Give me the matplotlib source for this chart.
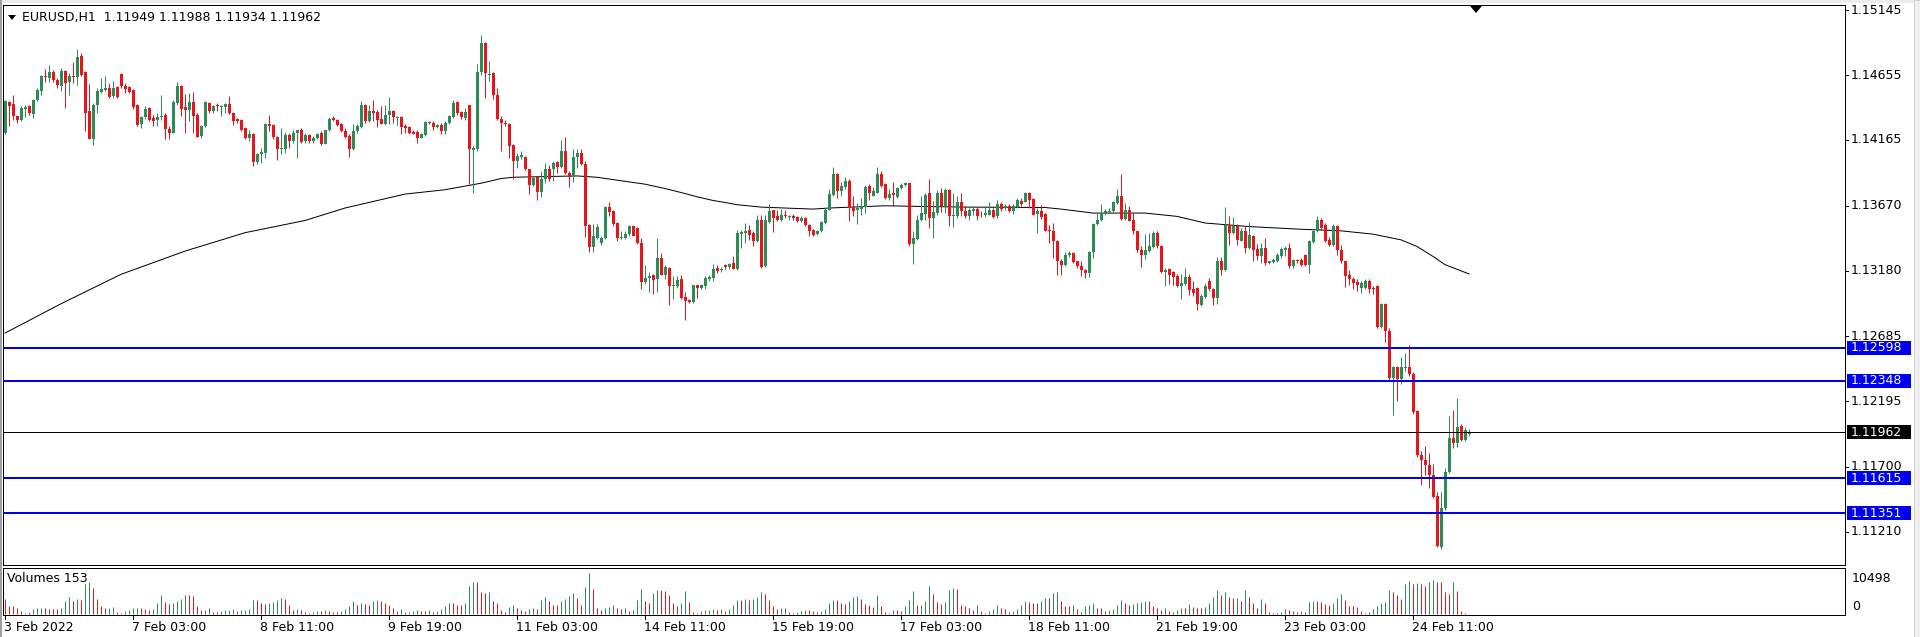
import matplotlib
matplotlib.use("Agg")
import matplotlib.pyplot as plt
from matplotlib.patches import Rectangle, Polygon
import numpy as np

SYMBOL = "EURUSD,H1"

# hourly bars (3 Feb 2022 -> 24 Feb 2022)
opens = [
    1.14219, 1.14449, 1.14439, 1.14349, 1.14314, 1.14401, 1.14424, 1.14364, 1.14469, 1.14531,
    1.14649, 1.14631, 1.14674, 1.14619, 1.14574, 1.14684, 1.14606, 1.14644, 1.14639, 1.14799,
    1.14674, 1.14381, 1.14169, 1.14431, 1.14524, 1.14544, 1.14556, 1.14494, 1.14564, 1.14664,
    1.14574, 1.14564, 1.14539, 1.14431, 1.14289, 1.14336, 1.14406, 1.14331, 1.14314, 1.14339,
    1.14356, 1.14249, 1.14219, 1.14444, 1.14574, 1.14414, 1.14389, 1.14449, 1.14356, 1.14194,
    1.14269, 1.14444, 1.14381, 1.14431, 1.14411, 1.14414, 1.14439, 1.14369, 1.14324, 1.14314,
    1.14252, 1.14182, 1.14207, 1.14002, 1.14062, 1.14069, 1.14287, 1.14277, 1.14187, 1.14094,
    1.14094, 1.14199, 1.14157, 1.14219, 1.14237, 1.14157, 1.14199, 1.14157, 1.14177, 1.14219,
    1.14137, 1.14237, 1.14332, 1.14314, 1.14282, 1.14232, 1.14192, 1.14094, 1.14232, 1.14262,
    1.14427, 1.14307, 1.14387, 1.14377, 1.14327, 1.14287, 1.14357, 1.14387, 1.14332, 1.14337,
    1.14269, 1.14262, 1.14227, 1.14227, 1.14182, 1.14202, 1.14302, 1.14294, 1.14262, 1.14277,
    1.14232, 1.14294, 1.14337, 1.14452, 1.14377, 1.14332, 1.14427, 1.14087, 1.14094, 1.14677,
    1.14894, 1.14654, 1.14669, 1.14507, 1.14327, 1.14294, 1.14289, 1.14127, 1.14007, 1.14039,
    1.14039, 1.13944, 1.13824, 1.13889, 1.13774, 1.13869, 1.13944, 1.13944, 1.13999, 1.13962,
    1.14082, 1.13919, 1.13889, 1.14039, 1.14069, 1.13982, 1.13524, 1.13357, 1.13424, 1.13389,
    1.13424, 1.13657, 1.13632, 1.13539, 1.13424, 1.13424, 1.13457, 1.13514, 1.13499, 1.13389,
    1.13094, 1.13124, 1.13144, 1.13114, 1.13274, 1.13149, 1.13199, 1.13064, 1.13064, 1.13114,
    1.12982, 1.12957, 1.12944, 1.13069, 1.13049, 1.13064, 1.13114, 1.13124, 1.13199, 1.13182,
    1.13219, 1.13209, 1.13239, 1.13189, 1.13459, 1.13464, 1.13489, 1.13464, 1.13402, 1.13564,
    1.13214, 1.13544, 1.13634, 1.13589, 1.13559, 1.13602, 1.13584, 1.13594, 1.13584, 1.13552,
    1.13577, 1.13527, 1.13484, 1.13459, 1.13477, 1.13539, 1.13639, 1.13752, 1.13909, 1.13777,
    1.13809, 1.13859, 1.13659, 1.13639, 1.13644, 1.13659, 1.13819, 1.13744, 1.13769, 1.13909,
    1.13834, 1.13727, 1.13764, 1.13734, 1.13802, 1.13827, 1.13839, 1.13377, 1.13419, 1.13559,
    1.13609, 1.13764, 1.13577, 1.13614, 1.13764, 1.13664, 1.13789, 1.13589, 1.13589, 1.13694,
    1.13631, 1.13589, 1.13631, 1.13646, 1.13601, 1.13601, 1.13601, 1.13639, 1.13589, 1.13681,
    1.13651, 1.13671, 1.13626, 1.13656, 1.13706, 1.13701, 1.13764, 1.13721, 1.13606, 1.13626,
    1.13606, 1.13489, 1.13481, 1.13406, 1.13256, 1.13221, 1.13296, 1.13314, 1.13251, 1.13214,
    1.13181, 1.13164, 1.13321, 1.13531, 1.13564, 1.13606, 1.13621, 1.13626, 1.13689, 1.13746,
    1.13571, 1.13639, 1.13564, 1.13476, 1.13339, 1.13296, 1.13331, 1.13356, 1.13464, 1.13364,
    1.13171, 1.13189, 1.13171, 1.13139, 1.13064, 1.13081, 1.13131, 1.13039, 1.13046, 1.12920,
    1.12980, 1.13105, 1.13045, 1.12970, 1.13255, 1.13188, 1.13525, 1.13463, 1.13520, 1.13405,
    1.13480, 1.13350, 1.13438, 1.13345, 1.13288, 1.13350, 1.13238, 1.13245, 1.13255, 1.13288,
    1.13338, 1.13350, 1.13213, 1.13263, 1.13263, 1.13300, 1.13220, 1.13395, 1.13475, 1.13563,
    1.13525, 1.13413, 1.13370, 1.13520, 1.13338, 1.13250, 1.13145, 1.13120, 1.13095, 1.13050,
    1.13050, 1.13105, 1.13050, 1.13063, 1.12755, 1.12930, 1.12725, 1.12370, 1.12455, 1.12363,
    1.12445, 1.12455, 1.12400, 1.12125, 1.11788, 1.11750, 1.11713, 1.11638, 1.11480, 1.11095,
    1.11388, 1.11663, 1.11920, 1.11880, 1.12005, 1.11900, 1.11949,
]
highs = [
    1.14469, 1.14456, 1.14506, 1.14356, 1.14424, 1.14431, 1.14429, 1.14474, 1.14556, 1.14656,
    1.14699, 1.14731, 1.14694, 1.14631, 1.14706, 1.14694, 1.14669, 1.14756, 1.14849, 1.14824,
    1.14689, 1.14589, 1.14444, 1.14556, 1.14631, 1.14649, 1.14594, 1.14611, 1.14569, 1.14669,
    1.14594, 1.14574, 1.14549, 1.14439, 1.14349, 1.14419, 1.14414, 1.14356, 1.14369, 1.14506,
    1.14369, 1.14269, 1.14469, 1.14606, 1.14581, 1.14514, 1.14519, 1.14524, 1.14369, 1.14281,
    1.14456, 1.14449, 1.14431, 1.14444, 1.14431, 1.14444, 1.14499, 1.14374, 1.14331, 1.14324,
    1.14262, 1.14237, 1.14219, 1.14069, 1.14102, 1.14294, 1.14352, 1.14287, 1.14194, 1.14252,
    1.14227, 1.14219, 1.14237, 1.14242, 1.14252, 1.14219, 1.14212, 1.14194, 1.14219, 1.14232,
    1.14244, 1.14337, 1.14344, 1.14327, 1.14294, 1.14252, 1.14207, 1.14287, 1.14287, 1.14462,
    1.14437, 1.14432, 1.14469, 1.14394, 1.14419, 1.14427, 1.14487, 1.14394, 1.14344, 1.14344,
    1.14287, 1.14269, 1.14237, 1.14237, 1.14219, 1.14307, 1.14312, 1.14307, 1.14287, 1.14294,
    1.14307, 1.14357, 1.14469, 1.14462, 1.14387, 1.14407, 1.14432, 1.14119, 1.14737, 1.14957,
    1.14907, 1.14757, 1.14674, 1.14557, 1.14349, 1.14319, 1.14294, 1.14132, 1.14069, 1.14082,
    1.14044, 1.13949, 1.13894, 1.13894, 1.13932, 1.13994, 1.13974, 1.14007, 1.14007, 1.14164,
    1.14189, 1.13932, 1.14094, 1.14094, 1.14094, 1.14007, 1.13532, 1.13532, 1.13532, 1.13444,
    1.13669, 1.13699, 1.13639, 1.13549, 1.13482, 1.13482, 1.13524, 1.13524, 1.13507, 1.13424,
    1.13219, 1.13169, 1.13157, 1.13424, 1.13314, 1.13219, 1.13207, 1.13139, 1.13139, 1.13144,
    1.13019, 1.12964, 1.13074, 1.13074, 1.13082, 1.13139, 1.13149, 1.13232, 1.13224, 1.13207,
    1.13227, 1.13239, 1.13289, 1.13489, 1.13489, 1.13539, 1.13527, 1.13477, 1.13602, 1.13602,
    1.13602, 1.13684, 1.13639, 1.13639, 1.13644, 1.13639, 1.13602, 1.13609, 1.13594, 1.13589,
    1.13584, 1.13534, 1.13494, 1.13489, 1.13552, 1.13652, 1.13794, 1.13964, 1.13914, 1.13852,
    1.13884, 1.13869, 1.13744, 1.13689, 1.13727, 1.13827, 1.13834, 1.13814, 1.13964, 1.13934,
    1.13839, 1.13794, 1.13852, 1.13814, 1.13844, 1.13852, 1.13844, 1.13477, 1.13602, 1.13739,
    1.13764, 1.13869, 1.13702, 1.13789, 1.13802, 1.13802, 1.13794, 1.13764, 1.13744, 1.13764,
    1.13664, 1.13651, 1.13664, 1.13656, 1.13626, 1.13664, 1.13696, 1.13651, 1.13714, 1.13701,
    1.13681, 1.13681, 1.13681, 1.13731, 1.13726, 1.13776, 1.13776, 1.13726, 1.13651, 1.13676,
    1.13614, 1.13526, 1.13539, 1.13414, 1.13264, 1.13321, 1.13326, 1.13321, 1.13256, 1.13251,
    1.13189, 1.13331, 1.13539, 1.13614, 1.13681, 1.13646, 1.13651, 1.13706, 1.13796, 1.13906,
    1.13689, 1.13664, 1.13614, 1.13481, 1.13364, 1.13456, 1.13464, 1.13476, 1.13481, 1.13376,
    1.13201, 1.13196, 1.13176, 1.13151, 1.13151, 1.13196, 1.13151, 1.13101, 1.13056, 1.13000,
    1.13088, 1.13125, 1.13050, 1.13280, 1.13280, 1.13663, 1.13595, 1.13588, 1.13530, 1.13500,
    1.13513, 1.13545, 1.13450, 1.13380, 1.13388, 1.13425, 1.13255, 1.13275, 1.13313, 1.13355,
    1.13363, 1.13388, 1.13270, 1.13270, 1.13275, 1.13305, 1.13413, 1.13488, 1.13595, 1.13580,
    1.13538, 1.13430, 1.13530, 1.13525, 1.13375, 1.13255, 1.13188, 1.13130, 1.13113, 1.13105,
    1.13113, 1.13113, 1.13063, 1.13070, 1.12938, 1.12938, 1.12750, 1.12463, 1.12463, 1.12525,
    1.12555, 1.12620, 1.12413, 1.12130, 1.11820, 1.11855, 1.11805, 1.11720, 1.11513, 1.11513,
    1.11688, 1.12080, 1.12130, 1.12220, 1.12025, 1.12000, 1.11988,
]
lows = [
    1.14207, 1.14269, 1.14319, 1.14294, 1.14306, 1.14339, 1.14356, 1.14331, 1.14456, 1.14506,
    1.14606, 1.14606, 1.14606, 1.14556, 1.14531, 1.14406, 1.14506, 1.14594, 1.14581, 1.14644,
    1.14231, 1.14169, 1.14131, 1.14369, 1.14519, 1.14531, 1.14481, 1.14481, 1.14481, 1.14556,
    1.14519, 1.14519, 1.14399, 1.14269, 1.14256, 1.14324, 1.14306, 1.14269, 1.14269, 1.14319,
    1.14169, 1.14174, 1.14214, 1.14431, 1.14344, 1.14214, 1.14306, 1.14219, 1.14189, 1.14181,
    1.14264, 1.14369, 1.14369, 1.14381, 1.14344, 1.14369, 1.14364, 1.14281, 1.14294, 1.14231,
    1.14169, 1.14157, 1.13969, 1.13987, 1.13994, 1.14032, 1.14232, 1.14169, 1.14012, 1.14057,
    1.14069, 1.14107, 1.14144, 1.14032, 1.14144, 1.14144, 1.14144, 1.14144, 1.14169, 1.14127,
    1.14132, 1.14232, 1.14307, 1.14269, 1.14227, 1.14182, 1.14037, 1.14087, 1.14219, 1.14252,
    1.14294, 1.14302, 1.14307, 1.14262, 1.14282, 1.14277, 1.14282, 1.14294, 1.14277, 1.14212,
    1.14219, 1.14207, 1.14207, 1.14144, 1.14177, 1.14194, 1.14282, 1.14237, 1.14252, 1.14212,
    1.14207, 1.14287, 1.14332, 1.14357, 1.14327, 1.14319, 1.13832, 1.13769, 1.14082, 1.14657,
    1.14482, 1.14607, 1.14474, 1.14319, 1.14082, 1.14274, 1.14032, 1.13869, 1.13957, 1.14019,
    1.13939, 1.13757, 1.13819, 1.13714, 1.13732, 1.13839, 1.13857, 1.13857, 1.13919, 1.13957,
    1.13907, 1.13814, 1.13849, 1.13957, 1.13974, 1.13432, 1.13319, 1.13324, 1.13419, 1.13374,
    1.13419, 1.13594, 1.13519, 1.13407, 1.13419, 1.13419, 1.13444, 1.13439, 1.13382, 1.13039,
    1.13082, 1.13019, 1.13007, 1.13019, 1.13144, 1.13114, 1.12919, 1.12969, 1.13049, 1.12969,
    1.12807, 1.12932, 1.12939, 1.12974, 1.13039, 1.13039, 1.13099, 1.13099, 1.13164, 1.13169,
    1.13189, 1.13194, 1.13189, 1.13184, 1.13352, 1.13389, 1.13414, 1.13364, 1.13394, 1.13202,
    1.13209, 1.13539, 1.13469, 1.13552, 1.13552, 1.13577, 1.13564, 1.13564, 1.13544, 1.13544,
    1.13519, 1.13444, 1.13444, 1.13452, 1.13469, 1.13534, 1.13634, 1.13744, 1.13727, 1.13744,
    1.13794, 1.13552, 1.13589, 1.13534, 1.13602, 1.13614, 1.13714, 1.13739, 1.13764, 1.13809,
    1.13719, 1.13714, 1.13664, 1.13727, 1.13794, 1.13819, 1.13364, 1.13227, 1.13414, 1.13552,
    1.13564, 1.13502, 1.13427, 1.13602, 1.13619, 1.13614, 1.13514, 1.13509, 1.13577, 1.13589,
    1.13576, 1.13564, 1.13601, 1.13564, 1.13581, 1.13581, 1.13596, 1.13576, 1.13576, 1.13631,
    1.13639, 1.13621, 1.13606, 1.13651, 1.13664, 1.13696, 1.13651, 1.13596, 1.13464, 1.13571,
    1.13476, 1.13389, 1.13276, 1.13146, 1.13146, 1.13214, 1.13281, 1.13239, 1.13201, 1.13139,
    1.13126, 1.13131, 1.13276, 1.13526, 1.13556, 1.13596, 1.13614, 1.13621, 1.13681, 1.13564,
    1.13564, 1.13551, 1.13456, 1.13321, 1.13206, 1.13264, 1.13321, 1.13351, 1.13351, 1.13164,
    1.13064, 1.13076, 1.13071, 1.13056, 1.12964, 1.13071, 1.12996, 1.12989, 1.12881, 1.12913,
    1.12975, 1.13025, 1.12920, 1.12925, 1.13145, 1.13180, 1.13370, 1.13455, 1.13375, 1.13400,
    1.13313, 1.13345, 1.13255, 1.13263, 1.13238, 1.13225, 1.13230, 1.13238, 1.13245, 1.13275,
    1.13288, 1.13200, 1.13200, 1.13238, 1.13213, 1.13213, 1.13163, 1.13388, 1.13470, 1.13488,
    1.13395, 1.13363, 1.13363, 1.13295, 1.13238, 1.13055, 1.13070, 1.13038, 1.13030, 1.13013,
    1.13038, 1.13013, 1.13000, 1.12750, 1.12745, 1.12645, 1.12345, 1.12088, 1.12200, 1.12325,
    1.12425, 1.12388, 1.12100, 1.11775, 1.11563, 1.11638, 1.11538, 1.11463, 1.11095, 1.11080,
    1.11375, 1.11655, 1.11845, 1.11850, 1.11895, 1.11895, 1.11934,
]
closes = [
    1.14456, 1.14424, 1.14344, 1.14314, 1.14406, 1.14414, 1.14369, 1.14469, 1.14544, 1.14644,
    1.14639, 1.14679, 1.14614, 1.14579, 1.14689, 1.14594, 1.14644, 1.14641, 1.14794, 1.14656,
    1.14369, 1.14169, 1.14431, 1.14531, 1.14549, 1.14556, 1.14486, 1.14556, 1.14486, 1.14569,
    1.14549, 1.14524, 1.14414, 1.14281, 1.14339, 1.14401, 1.14314, 1.14306, 1.14339, 1.14349,
    1.14249, 1.14219, 1.14449, 1.14574, 1.14399, 1.14389, 1.14449, 1.14349, 1.14189, 1.14274,
    1.14449, 1.14381, 1.14424, 1.14419, 1.14424, 1.14439, 1.14369, 1.14306, 1.14306, 1.14244,
    1.14182, 1.14207, 1.14002, 1.14062, 1.14077, 1.14287, 1.14269, 1.14187, 1.14094, 1.14102,
    1.14199, 1.14157, 1.14219, 1.14237, 1.14152, 1.14199, 1.14157, 1.14182, 1.14212, 1.14137,
    1.14237, 1.14327, 1.14314, 1.14277, 1.14232, 1.14187, 1.14094, 1.14232, 1.14269, 1.14427,
    1.14307, 1.14387, 1.14369, 1.14319, 1.14287, 1.14357, 1.14387, 1.14337, 1.14337, 1.14262,
    1.14257, 1.14219, 1.14212, 1.14182, 1.14207, 1.14302, 1.14294, 1.14262, 1.14277, 1.14232,
    1.14294, 1.14344, 1.14444, 1.14369, 1.14337, 1.14377, 1.14094, 1.14107, 1.14677, 1.14894,
    1.14669, 1.14664, 1.14507, 1.14324, 1.14294, 1.14282, 1.14119, 1.14007, 1.14044, 1.14049,
    1.13944, 1.13824, 1.13882, 1.13774, 1.13869, 1.13944, 1.13869, 1.13994, 1.13964, 1.14082,
    1.13919, 1.13889, 1.14039, 1.14064, 1.13982, 1.13519, 1.13357, 1.13439, 1.13507, 1.13424,
    1.13657, 1.13619, 1.13532, 1.13424, 1.13432, 1.13457, 1.13519, 1.13444, 1.13389, 1.13094,
    1.13124, 1.13139, 1.13107, 1.13274, 1.13149, 1.13207, 1.13064, 1.13074, 1.13107, 1.12974,
    1.12949, 1.12944, 1.13069, 1.13049, 1.13069, 1.13124, 1.13132, 1.13194, 1.13174, 1.13194,
    1.13209, 1.13227, 1.13194, 1.13464, 1.13469, 1.13477, 1.13452, 1.13402, 1.13564, 1.13209,
    1.13564, 1.13627, 1.13577, 1.13559, 1.13602, 1.13589, 1.13594, 1.13577, 1.13552, 1.13577,
    1.13527, 1.13477, 1.13452, 1.13482, 1.13544, 1.13639, 1.13759, 1.13909, 1.13777, 1.13819,
    1.13859, 1.13652, 1.13627, 1.13652, 1.13664, 1.13814, 1.13764, 1.13777, 1.13909, 1.13819,
    1.13727, 1.13759, 1.13752, 1.13802, 1.13827, 1.13839, 1.13377, 1.13427, 1.13564, 1.13614,
    1.13752, 1.13577, 1.13619, 1.13764, 1.13664, 1.13789, 1.13589, 1.13602, 1.13694, 1.13627,
    1.13589, 1.13639, 1.13644, 1.13589, 1.13599, 1.13614, 1.13639, 1.13581, 1.13681, 1.13646,
    1.13671, 1.13626, 1.13664, 1.13714, 1.13681, 1.13764, 1.13714, 1.13601, 1.13626, 1.13581,
    1.13481, 1.13476, 1.13401, 1.13251, 1.13221, 1.13301, 1.13314, 1.13246, 1.13214, 1.13181,
    1.13164, 1.13321, 1.13531, 1.13564, 1.13614, 1.13626, 1.13631, 1.13696, 1.13746, 1.13571,
    1.13639, 1.13556, 1.13476, 1.13339, 1.13296, 1.13339, 1.13364, 1.13464, 1.13364, 1.13171,
    1.13181, 1.13146, 1.13131, 1.13064, 1.13089, 1.13131, 1.13031, 1.13014, 1.12926, 1.12988,
    1.13063, 1.13038, 1.12970, 1.13255, 1.13188, 1.13525, 1.13463, 1.13520, 1.13413, 1.13480,
    1.13350, 1.13445, 1.13338, 1.13288, 1.13350, 1.13238, 1.13250, 1.13263, 1.13295, 1.13345,
    1.13350, 1.13213, 1.13263, 1.13250, 1.13220, 1.13220, 1.13400, 1.13475, 1.13563, 1.13500,
    1.13405, 1.13370, 1.13520, 1.13338, 1.13250, 1.13138, 1.13120, 1.13088, 1.13075, 1.13088,
    1.13105, 1.13038, 1.13038, 1.12755, 1.12930, 1.12725, 1.12370, 1.12450, 1.12363, 1.12450,
    1.12455, 1.12400, 1.12113, 1.11788, 1.11750, 1.11713, 1.11638, 1.11470, 1.11105, 1.11388,
    1.11663, 1.11920, 1.11880, 1.12000, 1.11900, 1.11975, 1.11962,
]
volumes = [
    3850, 2210, 2050, 1640, 820, 410, 660, 1230, 1480, 1640,
    1480, 1310, 1230, 1230, 1480, 3440, 4510, 3440, 3940, 3690,
    7790, 8200, 6720, 3940, 2050, 1480, 1640, 1800, 660, 330,
    820, 1150, 1480, 1640, 1480, 1230, 1070, 1230, 2870, 4920,
    3120, 2620, 2870, 3280, 3940, 4920, 4920, 4760, 2050, 980,
    1150, 1480, 660, 660, 820, 980, 1070, 1230, 900, 980,
    1150, 1310, 3690, 3690, 2870, 2710, 2870, 3120, 3690, 4100,
    3940, 2460, 980, 1310, 980, 660, 410, 660, 820, 820,
    980, 820, 660, 490, 820, 1230, 2050, 3280, 2460, 2870,
    2620, 2460, 3440, 3690, 3440, 2870, 2300, 1480, 820, 1230,
    490, 660, 820, 980, 820, 820, 980, 660, 820, 1230,
    2050, 2870, 2870, 2300, 2300, 2870, 7380, 8200, 8200, 5740,
    5580, 5740, 3280, 2870, 980, 660, 1800, 2460, 1640, 980,
    820, 1230, 1640, 1230, 3690, 4510, 3440, 2460, 2300, 3280,
    3940, 4760, 5580, 4100, 2300, 6970, 10498, 6560, 1480, 980,
    1640, 1800, 2460, 1640, 1230, 1480, 820, 980, 3690, 6560,
    3440, 2870, 5580, 6150, 6150, 5900, 4920, 2870, 2050, 2870,
    5900, 3120, 660, 410, 820, 980, 1150, 1230, 1150, 1230,
    820, 1230, 2460, 3690, 3690, 3940, 3690, 3940, 4510, 5740,
    5330, 3690, 2050, 1230, 1480, 1640, 660, 410, 660, 820,
    980, 980, 820, 660, 820, 1230, 2870, 3690, 3690, 2870,
    2620, 3280, 4510, 4760, 3940, 2620, 2300, 1800, 4920, 2050,
    660, 410, 980, 980, 820, 2050, 3690, 5900, 2300, 2460,
    3440, 7380, 5330, 3120, 2620, 3120, 6150, 6720, 6400, 2460,
    2050, 1640, 980, 2300, 820, 410, 820, 1230, 2460, 1480,
    1230, 660, 820, 1230, 2300, 3440, 3120, 2870, 2870, 3280,
    4100, 4100, 5580, 5740, 3440, 2050, 2050, 2460, 1230, 660,
    2050, 2300, 2870, 1640, 1480, 820, 980, 1230, 2460, 3690,
    2870, 2460, 2620, 2870, 3120, 3440, 3280, 2050, 1480, 980,
    1640, 820, 660, 980, 1640, 1640, 2620, 1800, 1640, 1480,
    1800, 2870, 4510, 6150, 4920, 5740, 4510, 4100, 4260, 3280,
    6150, 4510, 2870, 1640, 3940, 2870, 660, 410, 410, 660,
    1230, 980, 820, 660, 820, 660, 3120, 3280, 3280, 3120,
    2620, 2460, 2870, 4100, 5080, 3690, 2050, 2050, 1800, 820,
    410, 660, 1230, 2050, 2870, 3120, 6150, 5740, 4920, 3940,
    7790, 8610, 7790, 8040, 7790, 7380, 8200, 8860, 8200, 8200,
    5740, 5330, 8200, 5900, 820, 410, 153,
]

# moving average, read at a few bars along the black curve
ma_bars = [0, 14, 29, 45, 60, 75, 85, 100, 110, 119, 124, 127, 135, 143, 148, 156,
           160, 165, 169, 173, 177, 180, 183, 189, 195, 202, 206, 220, 229, 240,
           260, 264, 272, 280, 285, 293, 300, 311, 324, 334, 342, 349, 353, 357,
           360, 366]
ma_values = [1.12709, 1.12930, 1.13152, 1.13327, 1.13466, 1.13558, 1.13652, 1.13757,
             1.13790, 1.13839, 1.13874, 1.13884, 1.13889, 1.13894, 1.13884, 1.13849,
             1.13832, 1.13799, 1.13769, 1.13737, 1.13709, 1.13694, 1.13677, 1.13659,
             1.13652, 1.13644, 1.13652, 1.13669, 1.13664, 1.13659, 1.13656, 1.13644,
             1.13614, 1.13614, 1.13614, 1.13589, 1.13539, 1.13512, 1.13492, 1.13480,
             1.13455, 1.13412, 1.13362, 1.13287, 1.13225, 1.13155]

levels = [1.12598, 1.12348, 1.11615, 1.11351]
bid_price = 1.11962
price_ticks = [1.15145, 1.14655, 1.14165, 1.13670, 1.13180, 1.12685, 1.12195, 1.11700, 1.11210]
volume_max = 10498
time_labels = ["3 Feb 2022", "7 Feb 03:00", "8 Feb 11:00", "9 Feb 19:00", "11 Feb 03:00",
               "14 Feb 11:00", "15 Feb 19:00", "17 Feb 03:00", "18 Feb 11:00",
               "21 Feb 19:00", "23 Feb 03:00", "24 Feb 11:00"]
label_step = 32  # bars between time labels

W, H = 1920, 637
GREEN = "#2E8B57"
RED = "#E8141C"
BLUE = "#0000F0"
PX = 0.72  # one pixel in points
plt.rcParams["font.family"] = ["DejaVu Sans"]

fig = plt.figure(figsize=(W / 100, H / 100), dpi=100, facecolor="white")


def box(x0, y0, x1, y1):
    return [x0 / W, 1 - y1 / H, (x1 - x0) / W, (y1 - y0) / H]


ax = fig.add_axes(box(3, 5, 1845, 565))
axv = fig.add_axes(box(3, 568, 1845, 615))
pane_w = 1842

o = np.array(opens)
hi = np.array(highs)
lo = np.array(lows)
c = np.array(closes)
idx = np.arange(len(c))
colors = np.where(c >= o, GREEN, RED)

ax.vlines(idx, lo, hi, colors=colors, lw=PX, zorder=3)
body = np.maximum(np.abs(c - o), 0.00004)
ax.bar(idx, body, bottom=np.minimum(o, c), width=0.75, color=colors, linewidth=0, zorder=3)
ax.plot(ma_bars, ma_values, color="black", lw=PX, zorder=2)
for lvl in levels:
    ax.axhline(lvl, color=BLUE, lw=2 * PX, zorder=4)
ax.axhline(bid_price, color="black", lw=PX, zorder=4)

ax.set_xlim(-0.5, 460)
ax.set_ylim(1.10960, 1.15183)
ax.set_xticks([])
ax.set_yticks([])

ytr = ax.get_yaxis_transform()
for p in price_ticks:
    ax.text(1 + 6 / pane_w, p, f"{p:.5f}", transform=ytr, ha="left", va="center",
            fontsize=9, color="black", clip_on=False)
    ax.plot([1, 1 + 3 / pane_w], [p, p], transform=ytr, color="black", lw=PX, clip_on=False)

half = 6.8 * (1.15183 - 1.10960) / 560
for p, face in [(lv, BLUE) for lv in levels] + [(bid_price, "black")]:
    ax.add_patch(Rectangle((1 + 2 / pane_w, p - half), 64 / pane_w, 2 * half, transform=ytr,
                           facecolor=face, edgecolor="none", clip_on=False, zorder=6))
    ax.text(1 + 6 / pane_w, p, f"{p:.5f}", transform=ytr, ha="left", va="center",
            fontsize=9, color="white", clip_on=False, zorder=7)

# volumes: green when higher than the previous bar
v = np.array(volumes)
vcol = [RED] + [GREEN if v[i] > v[i - 1] else RED for i in range(1, len(v))]
axv.vlines(idx, 0, v, colors=vcol, lw=PX)
axv.set_xlim(-0.5, 460)
axv.set_ylim(-200, 11900)
axv.set_xticks([])
axv.set_yticks([])

xtr = axv.get_xaxis_transform()
for k, lab in enumerate(time_labels):
    b = k * label_step
    axv.text(b - 0.2, -0.27, lab, transform=xtr, ha="left", va="center", fontsize=9,
             clip_on=False)
    axv.plot([b, b], [0, -0.09], transform=xtr, color="black", lw=PX, clip_on=False)

for a in (ax, axv):
    for s in a.spines.values():
        s.set_color("black")
        s.set_linewidth(PX)

fig.text(7 / W, 1 - 579 / H, f"Volumes {volumes[-1]}", fontsize=9, va="center")
fig.text(1852 / W, 1 - 578 / H, str(volume_max), fontsize=9, va="center")
fig.text(1852 / W, 1 - 606 / H, "0", fontsize=9, va="center")

title = f"{SYMBOL}  {opens[-1]:.5f} {highs[-1]:.5f} {lows[-1]:.5f} {closes[-1]:.5f}"
fig.text(22 / W, 1 - 17 / H, title, fontsize=9, va="center")


def fpoly(pts, **kw):
    fig.patches.append(Polygon([(x / W, 1 - y / H) for x, y in pts], closed=True,
                               transform=fig.transFigure, **kw))


fpoly([(8, 15), (16, 15), (12, 20)], facecolor="black", edgecolor="none")
fpoly([(1470, 6), (1482, 6), (1476, 13)], facecolor="black", edgecolor="none")

# window frame bits
fig.patches.append(Rectangle((0, 1 - 3 / H), 1, 3 / H, transform=fig.transFigure,
                             facecolor="#ECECEC", edgecolor="none"))
fig.patches.append(Rectangle((1914 / W, 0), 6 / W, 1, transform=fig.transFigure,
                             facecolor="#F0F0F0", edgecolor="#D0D0D0", lw=PX))
fig.patches.append(Rectangle((0, 0), 1.5 / W, 1, transform=fig.transFigure,
                             facecolor="#A0A0A0", edgecolor="none"))

fig.savefig("out.png", dpi=100, facecolor="white")
